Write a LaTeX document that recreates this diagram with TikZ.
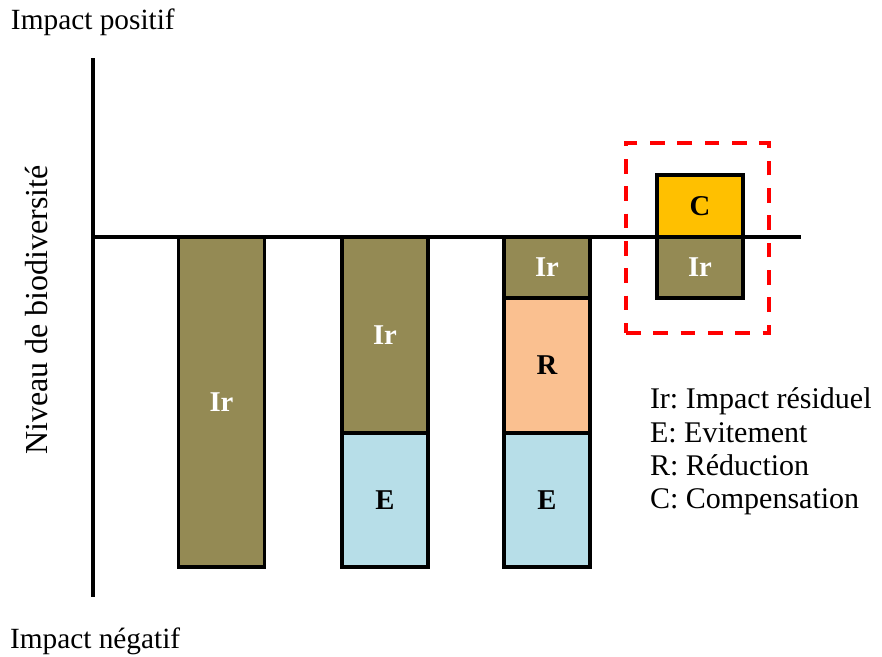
\documentclass[tikz,border=0pt]{standalone}
\usepackage{fontspec}
\setmainfont{Liberation Serif}
\frenchspacing
\usetikzlibrary{positioning}
\definecolor{olivebar}{HTML}{948A54}
\definecolor{avoidblue}{HTML}{B7DEE8}
\definecolor{reducesalmon}{HTML}{FAC090}
\definecolor{compgold}{HTML}{FFC000}
\definecolor{framered}{HTML}{FF0000}
\tikzset{
  axisline/.style={line width=2.6pt, line cap=rect},
  seg/.style={draw, line width=2.6pt, inner sep=0pt, outer sep=0pt,
    minimum width=64.5pt, font=\fontsize{21.5}{25}\selectfont\bfseries},
  irseg/.style={seg, fill=olivebar, text=white},
  eseg/.style={seg, fill=avoidblue},
  rseg/.style={seg, fill=reducesalmon},
  cseg/.style={seg, fill=compgold},
  plain/.style={inner sep=0pt, outer sep=0pt, font=\fontsize{22}{26}\selectfont},
  legend/.style={plain, anchor=base west, font=\fontsize{22.5}{26}\selectfont},
}
\begin{document}
\begin{tikzpicture}[x=0.75pt, y=-0.75pt]
\useasboundingbox (0,0) rectangle (882,657);

% axes
\coordinate (ytop) at (93,60);
\coordinate (ybot) at (93,595);
\coordinate (xleft) at (93,237);
\coordinate (xright) at (799,237);
\draw[axisline] (ytop) -- (ybot);
\draw[axisline] (xleft) -- (xright);

% bar 1: residual impact only
\node[irseg, minimum height=247.5pt] (ir1) at (221.5,402) {Ir};

% bar 2: avoidance + residual impact
\node[irseg, minimum height=147pt] (ir2) at (385,335) {Ir};
\node[eseg, minimum height=100.5pt] (e2) at (385,500) {E};

% bar 3: avoidance + reduction + residual impact
\node[irseg, minimum height=45.75pt] (ir3) at (547,267.5) {Ir};
\node[rseg, minimum height=101.25pt] (r3) at (547,365.5) {R};
\node[eseg, minimum height=100.5pt] (e3) at (547,500) {E};

% bar 4: compensation offsetting residual impact
\node[cseg, minimum height=46.5pt] (c4) at (700,206) {C};
\node[irseg, minimum height=45.75pt] (ir4) at (700,267.5) {Ir};

% dashed frame around the compensation bar
\node[draw=framered, line width=3pt, dash pattern=on 11pt off 9.5pt,
      minimum width=107.25pt, minimum height=142.5pt, inner sep=0pt]
      (frame) at (697.5,238) {};

% axis captions
\node[plain, anchor=base west] (pos) at (11,29) {Impact positif};
\node[plain, anchor=base west] (neg) at (10,648) {Impact négatif};
\node[plain, rotate=90, font=\fontsize{24}{28}\selectfont] (niveau) at (37,310) {Niveau de biodiversité};

% legend
\node[legend] (lg1) at (650,408) {Ir: Impact résiduel};
\node[legend] (lg2) at (650,442) {E: Evitement};
\node[legend] (lg3) at (650,475) {R: Réduction};
\node[legend] (lg4) at (650,508) {C: Compensation};
\end{tikzpicture}
\end{document}
